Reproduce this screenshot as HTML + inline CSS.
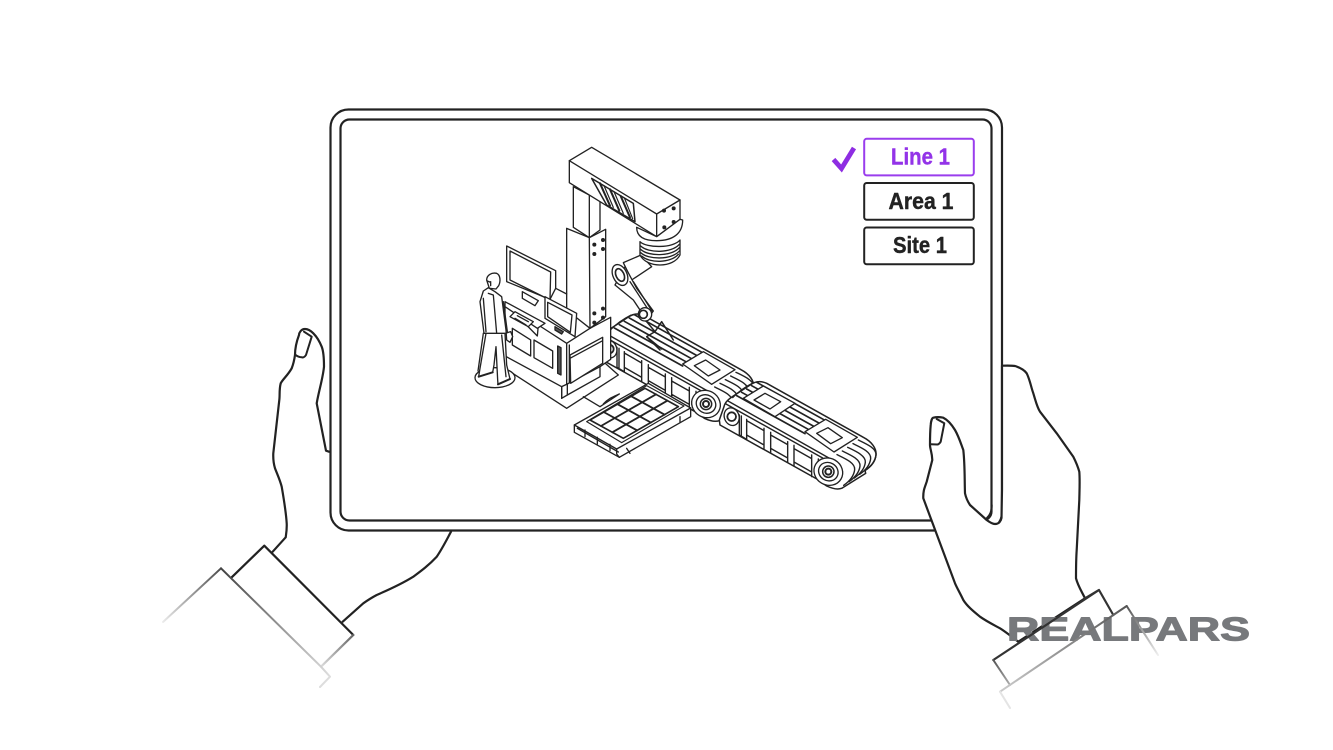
<!DOCTYPE html>
<html><head><meta charset="utf-8"><title>Tablet</title>
<style>html,body{margin:0;padding:0;background:#fff;width:1333px;height:750px;overflow:hidden}svg{display:block}</style></head>
<body>
<svg width="1333" height="750" viewBox="0 0 1333 750" xmlns="http://www.w3.org/2000/svg" stroke-linejoin="round" stroke-linecap="round">
<defs>
<linearGradient id="gL1" gradientUnits="userSpaceOnUse" x1="232" y1="578" x2="163" y2="625"><stop offset="0" stop-color="#444"/><stop offset="1" stop-color="#eee"/></linearGradient>
<linearGradient id="gL2" gradientUnits="userSpaceOnUse" x1="225" y1="570" x2="325" y2="680"><stop offset="0" stop-color="#444"/><stop offset="1" stop-color="#ddd"/></linearGradient>
<linearGradient id="gL3" gradientUnits="userSpaceOnUse" x1="353" y1="635" x2="321" y2="667"><stop offset="0" stop-color="#666"/><stop offset="1" stop-color="#ddd"/></linearGradient>
<linearGradient id="gR1" gradientUnits="userSpaceOnUse" x1="1126" y1="606" x2="1000" y2="692"><stop offset="0" stop-color="#555"/><stop offset="1" stop-color="#ccc"/></linearGradient>
<linearGradient id="gR2" gradientUnits="userSpaceOnUse" x1="1127" y1="606" x2="1158" y2="655"><stop offset="0" stop-color="#555"/><stop offset="1" stop-color="#eee"/></linearGradient>
<linearGradient id="gR3" gradientUnits="userSpaceOnUse" x1="993" y1="660" x2="1010" y2="708"><stop offset="0" stop-color="#555"/><stop offset="1" stop-color="#eee"/></linearGradient>
<path id="arc" d="M775,420 C800,432 830,445 828,465 C825,490 805,505 795,512" fill="none"/>
<g id="cv">
<path fill="#fff" stroke-width="4.5" d="M372,320 C375,306 385,298 400,288 L455,252 C470,243 485,243 500,250 L790,412 C815,425 830,445 828,465 C825,490 805,505 795,511 L797,520 L725,565 C710,570 695,565 680,558 L656,540 L360,375 L358,360 Z"/>
<g fill="none" stroke-width="5">
<path d="M410,287L615,401M425,277L630,391M440,267L645,381M455,257L660,371M470,247L675,361"/>
<path d="M398,293C420,270 440,258 460,248" stroke-width="3.6"/>
</g>
<g fill="none" stroke-width="4.2">
<use href="#arc"/><use href="#arc" transform="translate(-16,11)"/><use href="#arc" transform="translate(-32,22)"/><use href="#arc" transform="translate(-48,33)"/><use href="#arc" transform="translate(-64,44)"/>
<path d="M378,312L668,474M384,303L690,476" />
<path d="M418,345L418,405L440,418L440,358M424,348L424,408M492,385L492,446M512,397L512,458M563,425L563,487M582,436L582,498M635,465L635,530M655,477L655,542M440,405L492,435M512,445L563,474M582,486L635,516M440,362L492,392M512,405L563,434M582,446L635,476"/>
</g>
<ellipse cx="685" cy="515" rx="44" ry="40" transform="rotate(30 685 515)" fill="#fff" stroke-width="4"/>
<ellipse cx="685" cy="515" rx="30" ry="27" transform="rotate(30 685 515)" fill="none" stroke-width="4"/>
<circle cx="685" cy="515" r="17" fill="#fff" stroke-width="4.5"/>
<circle cx="685" cy="515" r="9" fill="#fff" stroke-width="6"/>
<ellipse cx="395" cy="350" rx="22" ry="27" transform="rotate(-20 395 350)" fill="#fff" stroke-width="4"/>
<circle cx="395" cy="350" r="13" fill="#fff" stroke-width="5.5"/>
<path fill="#fff" stroke-width="4" d="M615,395L677,358L772,412L702,456Z"/>
<path fill="#fff" stroke-width="4" d="M650,400L684,383L727,413L692,431Z"/>
</g>
</defs>

<!-- left hand -->
<g fill="none" stroke="#222" stroke-width="2.2">
<path d="M329,451.7L326,450.7L316.7,403.3C319,390 323,378 324,366.7C324,355 323,350 321.7,346.7C319,340 316,336 313.3,333.3C310,330 307,329 305,329C301,329 299,333 299,335C296,343 295,350 295,355C294,362 293,365 291.7,368.3C288,375 283,379 280.7,383.3C279,390 280,395 279.3,400L273.3,453.3C273,460 274,465 275,468.3C278,476 280,480 281.7,486.7C284,500 286,512 286.7,523.3C287,530 286,535 285.7,537.3L272.7,551.7"/>
<path d="M451,531.7C446,541 442,549 436.7,556.7C428,566 421,571 413.3,576.7C400,585 388,590 376.7,595C371,598 368,600 363.3,603.3L342.7,621.7"/>
<path d="M304,331.7L311.7,336.7L306,355Q304,358 301.7,357.3Q298,357 295.7,355" stroke-width="2"/>
<path d="M231.7,577.3L264.3,545.7L353.3,635" />
</g>
<path d="M353.3,635L321,666.7" fill="none" stroke="url(#gL3)" stroke-width="2.2"/>
<path d="M221,568.3L163,622" fill="none" stroke="url(#gL1)" stroke-width="2"/>
<path d="M221,568.3L321,666.7L330,676.7L320,687" fill="none" stroke="url(#gL2)" stroke-width="2"/>

<!-- tablet -->
<rect x="330.5" y="109.5" width="671.5" height="421" rx="18" fill="#fff" stroke="#222" stroke-width="2.2"/>
<rect x="340.5" y="119.5" width="651" height="401" rx="9" fill="#fff" stroke="#222" stroke-width="2.2"/>

<!-- conveyor 1 (behind machine) -->
<g transform="translate(600,300) scale(.33333)" stroke="#222">
<use href="#cv" transform="translate(-367,-203)"/>
</g>

<!-- machine lower -->
<g transform="translate(460,260) scale(.33333)" stroke="#222" stroke-width="4" fill="#fff">
<path d="M135,285L135,325L320,445L475,345L430,305L320,372Z"/>
<path d="M135,210L135,288L305,380L305,415L322,405L420,350L420,320L452,298L452,172L390,205L320,250L235,195L232,228L135,130Z" />
<path fill="none" d="M305,380L305,415M322,372L322,405M305,380L322,372L420,320M320,250L320,372M328,255L328,367"/>
<path d="M330,285L428,232L428,310L332,370ZM330,295L428,242" />
<path d="M157,205L212,240L212,288L157,255Z M222,240L278,273L278,325L222,293Z"/>
<path d="M293,258L303,263L303,345L293,340Z" fill="#555"/>
<path d="M135,125L255,190L232,205L135,140Z"/>
<path d="M165,155L220,185L205,200L150,170Z"/>
<path d="M172,167L205,185M165,175L198,195" fill="none"/>
<path fill="none" d="M370,410L420,440L478,402M430,432C445,415 460,410 478,402"/>
</g>

<!-- tray -->
<g transform="translate(460,260) scale(.33333)" stroke="#222" stroke-width="4" fill="#fff">
<path d="M343,495L343,517L478,592L692,470L692,444L565,370Z"/>
<path fill="none" d="M343,495L470,567L692,444M470,567L470,582L478,592M352,505L475,576M375,510L375,530M412,532L412,552M450,553L450,572M500,565L510,580M660,470L660,486"/>
<path d="M380,485L560,377L672,438L485,548Z" stroke-width="3.4"/>
<path d="M390,480L555,385L655,440L490,535Z" stroke-width="5"/>
<path fill="none" stroke-width="5.5" d="M431,456L531,511M472.5,432.5L572.5,487.5M514,409L614,464M423,498L588,403M457,517L622,422"/>
</g>

<!-- column, gantry, monitors -->
<g transform="translate(460,140) scale(.33333)" stroke="#222" stroke-width="4" fill="#fff">
<path d="M340,140L340,262L388,293L420,270L420,180L388,165Z"/>
<path fill="none" d="M388,165L388,293"/>
<path d="M320,265L388,293L437,268L437,530L390,565L320,510Z"/>
<path fill="none" d="M388,293L390,565"/>
<path d="M490,368L543,345L575,380L515,420Z"/>
<path d="M395,22L660,180L660,240L590,290L328,128L328,62Z"/>
<path fill="none" d="M328,62L590,222L660,180M590,222L590,290"/>
<path d="M395,115L520,190L525,245L440,195Z" stroke-width="4.5"/>
<path d="M420,130L450,197M450,148L478,212M482,168L510,232" fill="none" stroke-width="6"/>
<path d="M432,137L460,202M462,155L490,220M494,176L518,236" fill="none" stroke-width="3.5"/>
<g fill="#222" stroke="none">
<circle cx="612" cy="212" r="6"/><circle cx="641" cy="205" r="6"/><circle cx="613" cy="262" r="6"/><circle cx="641" cy="246" r="6"/>
<circle cx="403" cy="314" r="6"/><circle cx="429" cy="300" r="6"/><circle cx="403" cy="342" r="6"/><circle cx="429" cy="327" r="6"/>
<circle cx="403" cy="520" r="6"/><circle cx="429" cy="506" r="6"/><circle cx="403" cy="548" r="6"/><circle cx="429" cy="533" r="6"/>
</g>
<!-- coupling -->
<path d="M540,345C540,320 540,315 540,305C560,325 640,325 660,300L660,345C640,385 560,385 540,345Z"/>
<path d="M542,318C565,340 635,340 658,313M542,328C565,350 635,350 658,323M542,338C565,360 635,360 658,333M545,348C568,370 632,370 655,343" fill="none" stroke-width="4"/>
<path d="M530,262C530,285 545,302 590,302C640,302 668,280 668,240L660,238L590,290Z"/>
<!-- monitor 1 -->
<path d="M140,318L287,392L287,445L270,478L140,425Z"/>
<path d="M150,333L272,396L270,480L150,420Z"/>
<path d="M187,455L235,482L225,497L187,475Z"/>
<path d="M287,445L320,462" fill="none"/>
<!-- monitor 2 -->
<path d="M255,470L350,520L345,590L255,535Z"/>
<path d="M263,487L336,525L331,577L263,530Z"/>
<path d="M285,560L310,575L305,582L285,570Z" fill="#555"/>
</g>

<!-- conveyor 2 -->
<g transform="translate(600,300) scale(.33333)" stroke="#222">
<use href="#cv"/>
<path fill="#fff" stroke-width="4" d="M430,295L490,258L585,310L525,350Z"/>
<path fill="#fff" stroke-width="4" d="M462,300L495,280L542,305L510,327Z"/>
</g>

<!-- robot arm -->
<g transform="translate(590,225) scale(.33333)" stroke="#222" stroke-width="4" fill="#fff">
<path d="M105,125L140,190L190,258L170,285L130,225L75,180Z"/>
<path d="M120,170L180,262M130,170L186,258" fill="none"/>
<ellipse cx="90" cy="150" rx="21" ry="33" transform="rotate(-25 90 150)"/>
<ellipse cx="90" cy="150" rx="12" ry="20" transform="rotate(-25 90 150)" stroke-width="5"/>
<circle cx="165" cy="268" r="20"/>
<circle cx="160" cy="268" r="12" stroke-width="5"/>
<path d="M170,290L195,320L170,335L210,375M195,320L215,290L250,345M170,335L215,372" fill="none" stroke-width="4.5"/>
</g>

<!-- person -->
<g transform="translate(470,265) scale(.33333)" stroke="#222" stroke-width="4" fill="#fff">
<ellipse cx="75" cy="338" rx="60" ry="30"/>
<path d="M48,205L30,310L26,335L68,322L72,300L78,245L83,345L84,358L120,342L110,300L105,205Z"/>
<path d="M40,205L24,318M95,210L108,335" fill="none"/>
<path d="M26,335L68,322M84,358L120,342" fill="none" stroke-width="6"/>
<path d="M55,68L40,78L30,110L42,205L50,205L105,205L122,200L128,215L120,232L110,225L108,195L95,95L75,80Z"/>
<path d="M55,85L70,90L80,205M40,100L48,200M100,110L112,200" fill="none"/>
<path d="M50,45C50,30 65,22 80,25C92,30 92,50 86,62L78,72L58,70Z"/>
<path d="M62,50L62,62M52,48L62,52" fill="none"/>
</g>

<!-- right hand -->
<path fill="#fff" stroke="#222" stroke-width="2.2" d="M1002,365.7C1008,365.5 1012,365.5 1015,366C1021,368 1025,371 1026.7,373.3C1030,380 1031,387 1033.3,393.3C1036,402 1037,407 1040,411.7L1056.7,433.3L1073.3,456.7C1076,462 1078,467 1079.3,471.7C1080,480 1079.5,490 1079.3,500L1076.7,550C1076,560 1076,570 1076,578.3C1078,586 1082,592 1085,598.3L1018.3,641.7C1012,637 1006,632 1000,628.3C992,624 986,621 980,616.7C973,611 967,606 963.3,600C960,593 957,588 955,583.3L923.3,498.3C923,490 925,487 926.7,481.7L932.3,460C932,452 930,449 930,445C930,437 930,432 930.7,425C931,421 932,418 933.3,417.7C936,417 940,417 943.3,417.7C948,420 952,425 955,430C959,437 961,444 963.3,450C965,465 964.5,480 965,493.3C966,498 968,502 970,505L986.7,520C990,522.5 993,524 995,524C999,524 1001,521 1001.5,518L1002,490Z"/>
<path fill="none" stroke="#222" stroke-width="2" d="M936.7,419L944.3,423.3L940.7,441.7Q939,444.5 937.3,444.5L930.7,444.3"/>
<path d="M991.7,505C991.7,512 990,515 987,518" fill="none" stroke="#222" stroke-width="2"/>

<!-- logo -->
<text x="1007" y="640.5" font-family="'Liberation Sans',sans-serif" font-weight="700" font-size="33" fill="#77797c" stroke="#77797c" stroke-width="1.1" textLength="243" lengthAdjust="spacingAndGlyphs">REALPARS</text>

<!-- right cuff -->
<path d="M1085,598.3L1099,590L1113.3,615M1099,590L993.3,660" fill="none" stroke="#333" stroke-width="2.2"/>
<path d="M993.3,660L1010,685" fill="none" stroke="url(#gR3)" stroke-width="2"/>
<path d="M1113.3,615L1126.7,606L1000,691.7" fill="none" stroke="url(#gR1)" stroke-width="2"/>
<path d="M1126.7,606L1158,655" fill="none" stroke="url(#gR2)" stroke-width="2"/>
<path d="M1000,691.7L1010,708" fill="none" stroke="#e4e4e4" stroke-width="2"/>

<!-- menu -->
<path d="M833.5,159.5L841.5,168.5L854,148" fill="none" stroke="#8e2de2" stroke-width="4.8" stroke-linecap="butt" stroke-linejoin="miter"/>
<rect x="864.2" y="138.8" width="109.6" height="36.6" rx="2.5" fill="#fff" stroke="#9a3ded" stroke-width="2"/>
<rect x="864.2" y="183" width="109.6" height="36.8" rx="2.5" fill="#fff" stroke="#222" stroke-width="2"/>
<rect x="864.2" y="227.5" width="109.6" height="36.8" rx="2.5" fill="#fff" stroke="#222" stroke-width="2"/>
<g font-family="'Liberation Sans',sans-serif" font-weight="700" font-size="23" stroke-width=".4">
<text x="891" y="164.5" fill="#9333e8" stroke="#9333e8" textLength="59" lengthAdjust="spacingAndGlyphs">Line 1</text>
<text x="888.5" y="209" fill="#222" stroke="#222" textLength="65" lengthAdjust="spacingAndGlyphs">Area 1</text>
<text x="893" y="253" fill="#222" stroke="#222" textLength="54" lengthAdjust="spacingAndGlyphs">Site 1</text>
</g>
</svg>
</body></html>
